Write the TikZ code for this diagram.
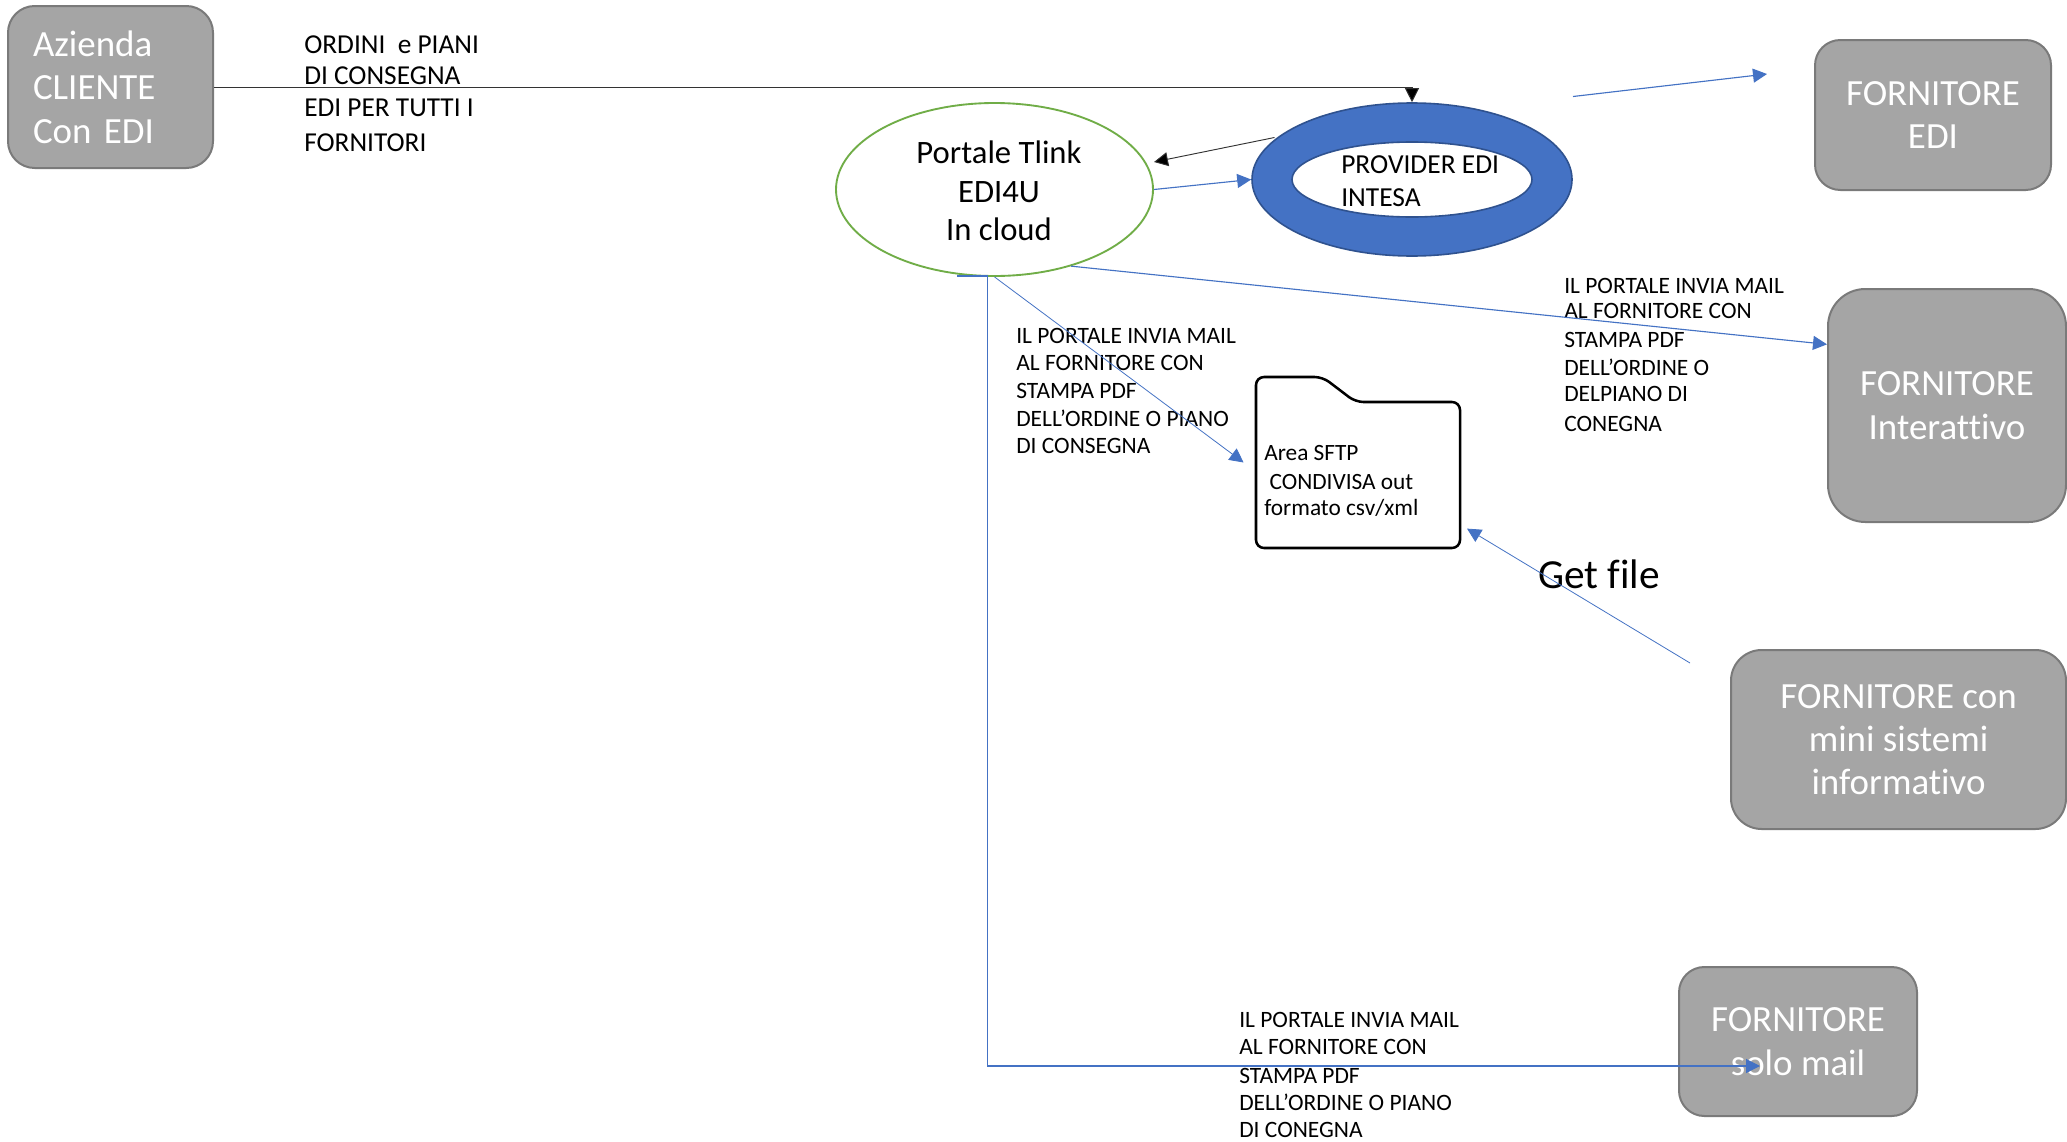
\documentclass[tikz,border=0pt]{standalone}
\usepackage{fontspec}
\setmainfont[Ligatures=NoCommon]{Carlito}
\usetikzlibrary{shapes.geometric,arrows.meta}
\definecolor{boxgray}{HTML}{A5A5A5}
\definecolor{boxedge}{HTML}{7A7A7A}
\definecolor{lineblue}{HTML}{4472C4}
\definecolor{darkblue}{HTML}{2F528F}
\definecolor{portalgreen}{HTML}{70AD47}
\definecolor{linedark}{HTML}{333333}
\tikzset{
  graybox/.style={draw=boxedge,fill=boxgray,line width=1.5pt,text=white,inner sep=0pt,align=center,
    font=\fontsize{27.7}{32.5}\selectfont},
  lbl/.style={anchor=north west,inner sep=0pt,align=left,font=\fontsize{17.6}{20.25}\selectfont},
  blueline/.style={draw=lineblue,line width=0.85pt,-{Triangle[length=10.5pt,width=10.5pt]}},
  thinblue/.style={draw=lineblue,line width=0.6pt,-{Triangle[length=10.5pt,width=10.5pt]}},
  blackline/.style={draw=linedark,line width=0.7pt,-{Triangle[length=10.5pt,width=10.5pt,fill=black]}},
}
\begin{document}
\begin{tikzpicture}[x=0.75pt,y=-0.75pt]
\path[use as bounding box,fill=white] (0,0) rectangle (2067,1142);

% grey boxes
\node[graybox,align=left,rounded corners=20pt,text width=155*0.75pt,inner xsep=25*0.75pt,minimum width=205*0.75pt,minimum height=162*0.75pt] (client) at (110.5,87) {Azienda\\CLIENTE\\Con EDI};
\node[graybox,rounded corners=19pt,minimum width=236*0.75pt,minimum height=150*0.75pt] (fedi) at (1933,115) {FORNITORE\\EDI};
\node[graybox,rounded corners=28pt,minimum width=238*0.75pt,minimum height=233*0.75pt] (fint) at (1947,405.5) {FORNITORE\\Interattivo};
\node[graybox,rounded corners=23pt,minimum width=335*0.75pt,minimum height=179*0.75pt] (fmini) at (1898.5,739.5) {FORNITORE con\\mini sistemi\\informativo};
\node[graybox,rounded corners=19pt,minimum width=238*0.75pt,minimum height=149*0.75pt] (fmail) at (1798,1041.5) {FORNITORE\\solo mail};

% portal
\node[ellipse,draw=portalgreen,line width=1.4pt,fill=white,inner sep=0pt,minimum width=317*0.75pt,minimum height=173*0.75pt] (portal) at (994.5,189.5) {};
\node[inner sep=0pt,align=center,font=\fontsize{24.5}{29}\selectfont] (portaltext) at (999,191) {Portale Tlink\\EDI4U\\In cloud};

% provider ring
\node[ellipse,draw=darkblue,line width=1.2pt,fill=lineblue,inner sep=0pt,minimum width=320*0.75pt,minimum height=153*0.75pt] (provider) at (1412,179.5) {};
\node[ellipse,draw=darkblue,line width=1.2pt,fill=white,inner sep=0pt,minimum width=240*0.75pt,minimum height=75*0.75pt] (providerhole) at (1412,179.5) {};
\node[lbl,font=\fontsize{20.6}{25}\selectfont] (providertext) at (1341,155) {PROVIDER EDI\\INTESA};

% folder
\draw[black,line width=1.9pt,fill=white,line join=round,rounded corners=6pt] (1256,548) -- (1256,377) -- (1322.6,377) -- (1355.5,402) -- (1460,402) -- (1460,548) -- cycle;
\node[lbl,font=\fontsize{17.5}{20}\selectfont] (foldertext) at (1264,445) {Area SFTP\\[1.5pt]\ CONDIVISA out\\formato csv/xml};

% labels
\node[lbl,font=\fontsize{20.5}{23}\selectfont] (lblorders) at (304,35) {ORDINI\ \ e PIANI\\[.5pt]DI CONSEGNA\\[.8pt]EDI PER TUTTI I\\[3.5pt]FORNITORI};
\node[lbl] (lblfolder) at (1016,328) {IL PORTALE INVIA MAIL\\AL FORNITORE CON\\[.75pt]STAMPA PDF\\[.5pt]DELL’ORDINE O PIANO\\[.3pt]DI CONSEGNA};
\node[lbl] (lblint) at (1564,278) {IL PORTALE INVIA MAIL\\[-1.5pt]AL FORNITORE CON\\[1.5pt]STAMPA PDF\\[.75pt]DELL’ORDINE O\\[-.75pt]DELPIANO DI\\[2pt]CONEGNA};
\node[lbl] (lblmail) at (1239,1012) {IL PORTALE INVIA MAIL\\AL FORNITORE CON\\[1.5pt]STAMPA PDF\\DELL’ORDINE O PIANO\\DI CONEGNA};
\node[inner sep=0pt,anchor=west,font=\fontsize{31}{36}\selectfont] (getfile) at (1538,574) {Get file};

% free ends
\coordinate (ediout) at (1573,96.5);
\coordinate (edihead) at (1767,74);
\coordinate (folderin) at (1243.6,462.5);
\coordinate (folderback) at (1467,528.6);
\coordinate (minitop) at (1690,663);
\coordinate (stubstart) at (957,276);
\coordinate (elbowtop) at (987.5,276);
\coordinate (elbowbottom) at (987.5,1066);
\coordinate (mailhead) at (1760,1066);
\coordinate (providerleft) at (1274.5,137.5);
\coordinate (portalright) at (1154,162);

% connectors
\draw[blackline] (client.east) -| (provider.north);
\draw[blackline] (providerleft) -- (portalright);
\draw[blueline] (portal.east) -- (provider.west);
\draw[blueline] (ediout) -- (edihead);
\draw[blueline] (portal.-45) -- (fint.153.4);
\draw[thinblue] (portal.south) -- (folderin);
\draw[thinblue] (minitop) -- (folderback);
\draw[blueline] (stubstart) -- (elbowtop) -- (elbowbottom) -- (mailhead);
\end{tikzpicture}
\end{document}
